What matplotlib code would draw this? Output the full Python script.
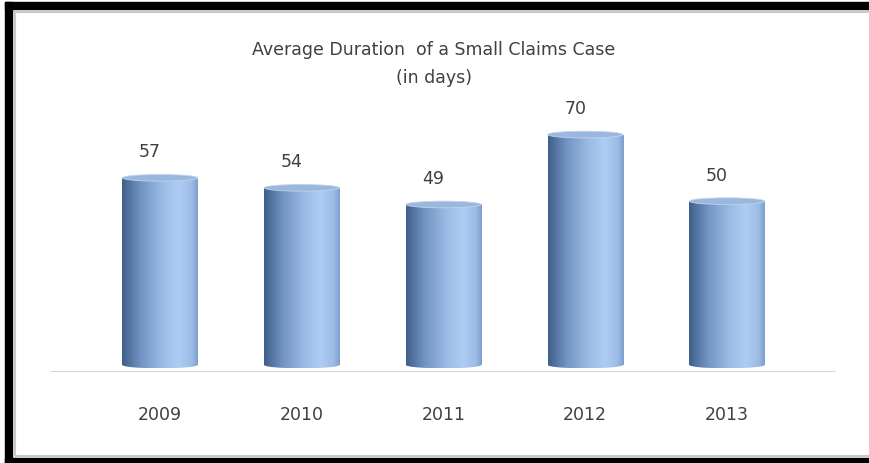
import matplotlib.pyplot as plt
import numpy as np
from matplotlib.patches import Rectangle, Ellipse
from matplotlib.colors import LinearSegmentedColormap

years = ['2009', '2010', '2011', '2012', '2013']
days = [57, 54, 49, 70, 50]

plt.rcParams['font.family'] = ['DejaVu Sans']

fig = plt.figure(figsize=(8.69, 4.64), dpi=100)

# outer frame: black on left, top, bottom; thin grey inside
fig.patches.append(Rectangle((5/869, 1-10/464), 864/869, 7/464, transform=fig.transFigure,
                             color='black', zorder=0))
fig.patches.append(Rectangle((5/869, 0), 7/869, 1-3/464, transform=fig.transFigure,
                             color='black', zorder=0))
fig.patches.append(Rectangle((5/869, 0), 864/869, 5/464, transform=fig.transFigure,
                             color='black', zorder=0))
fig.patches.append(Rectangle((15/869, 7/464), 880/869, 1-20/464, transform=fig.transFigure,
                             fill=False, edgecolor='#c8c8c8', lw=1.5, zorder=0))

ax = fig.add_axes([50/869, (464-373)/464, 786/869, (373-100)/464])
x = np.arange(len(years))
ax.set_xlim(-0.776, 4.769)
px_per_unit = 3.33
ax.set_ylim(-7/px_per_unit, (373-100)/px_per_unit - 7/px_per_unit)

cmap = LinearSegmentedColormap.from_list('cyl', [
    (0.0, '#3f5f88'), (0.25, '#7395c4'), (0.55, '#9dbde6'),
    (0.75, '#aecdf4'), (0.92, '#9cbce6'), (1.0, '#7e9fcc')])
grad = np.linspace(0, 1, 256).reshape(1, -1)

w = 0.53
eh = 2.0
for xi, v in zip(x, days):
    top = v - 0.8
    im = ax.imshow(grad, extent=[xi - w/2, xi + w/2, 0, top], aspect='auto',
                   cmap=cmap, zorder=2)
    clip = Rectangle((xi - w/2, 0), w, top, transform=ax.transData)
    im.set_clip_path(clip)
    bot = ax.imshow(grad, extent=[xi - w/2, xi + w/2, -eh/2, 0], aspect='auto',
                    cmap=cmap, zorder=2)
    bot.set_clip_path(Ellipse((xi, 0), w, eh, transform=ax.transData))
    ax.add_patch(Ellipse((xi, top), w, eh, facecolor='#9ab7de', edgecolor='#c0d3ec',
                         lw=0.6, zorder=3))
    ax.text(xi - 0.07, v + 4.5, str(v), ha='center', va='bottom', fontsize=12.5,
            color='#404040')

ax.axhline(-7/px_per_unit + 0.05, color='#d0d0d0', lw=2, zorder=1)
ax.set_xticks(x)
ax.set_xticklabels(years, fontsize=12.5, color='#404040')
ax.tick_params(axis='x', length=0, pad=24)
ax.set_yticks([])
for s in ax.spines.values():
    s.set_visible(False)
ax.patch.set_alpha(0)

fig.text(434/869, 1-50/464, 'Average Duration  of a Small Claims Case', ha='center',
         va='center', fontsize=12.5, color='#404040')
fig.text(434/869, 1-78/464, '(in days)', ha='center', va='center', fontsize=12.5,
         color='#404040')

fig.savefig('out.png', dpi=100)
